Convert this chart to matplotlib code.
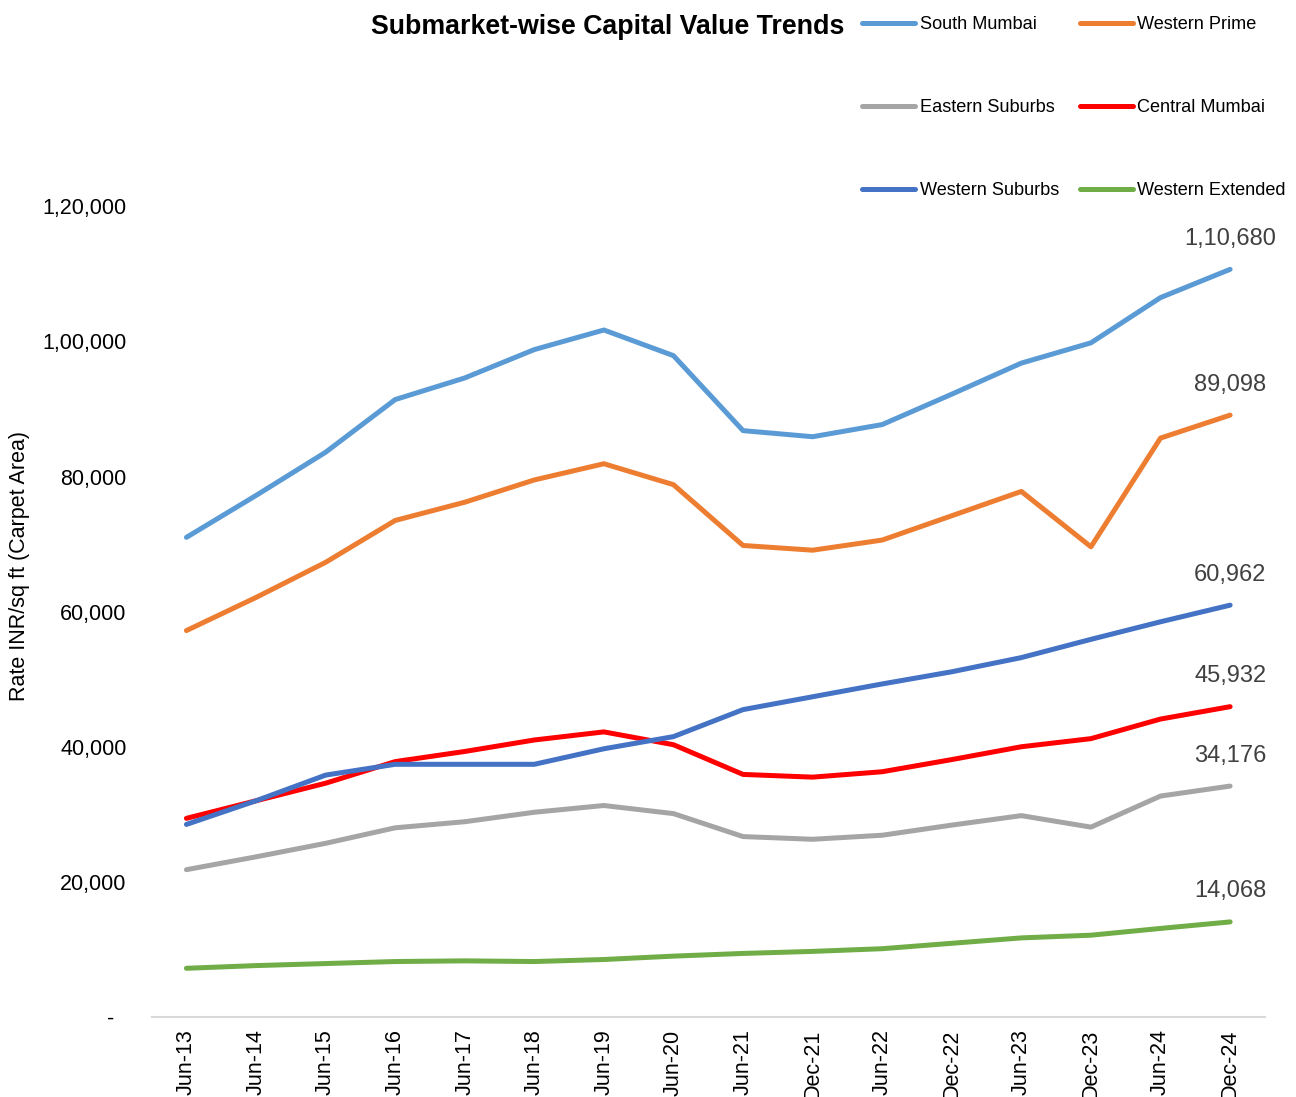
import numpy as np
import matplotlib
matplotlib.use('Agg')
import matplotlib.pyplot as plt
from matplotlib.ticker import FuncFormatter

plt.rcParams['font.family'] = ['Liberation Sans', 'DejaVu Sans']

periods = ['Jun-13', 'Jun-14', 'Jun-15', 'Jun-16', 'Jun-17', 'Jun-18', 'Jun-19', 'Jun-20',
           'Jun-21', 'Dec-21', 'Jun-22', 'Dec-22', 'Jun-23', 'Dec-23', 'Jun-24', 'Dec-24']

south_mumbai = [71000, 77200, 83600, 91400, 94600, 98800, 101700, 97900,
                86800, 85900, 87700, 92200, 96800, 99800, 106500, 110680]
western_prime = [57200, 62100, 67300, 73500, 76200, 79500, 81900, 78800,
                 69800, 69100, 70600, 74200, 77800, 69600, 85700, 89098]
eastern_suburbs = [21800, 23700, 25700, 28000, 28900, 30300, 31300, 30100,
                   26700, 26300, 26900, 28400, 29800, 28100, 32700, 34176]
central_mumbai = [29400, 32000, 34600, 37800, 39300, 41000, 42200, 40300,
                  35900, 35500, 36300, 38100, 40000, 41200, 44100, 45932]
western_suburbs = [28500, 32000, 35800, 37400, 37400, 37400, 39700, 41500,
                   45500, 47400, 49300, 51100, 53200, 55900, 58500, 60962]
western_extended = [7200, 7600, 7900, 8200, 8300, 8200, 8500, 9000,
                    9400, 9700, 10100, 10900, 11700, 12100, 13100, 14068]

# legend order: column 1 then column 2
series = [
    ('South Mumbai', south_mumbai, '#5B9BD5'),
    ('Eastern Suburbs', eastern_suburbs, '#A5A5A5'),
    ('Western Suburbs', western_suburbs, '#4472C4'),
    ('Western Prime', western_prime, '#ED7D31'),
    ('Central Mumbai', central_mumbai, '#FF0000'),
    ('Western Extended', western_extended, '#70AD47'),
]
# drawing order (front-most last)
draw_order = ['Western Extended', 'Eastern Suburbs', 'Central Mumbai',
              'Western Suburbs', 'Western Prime', 'South Mumbai']


def indian_fmt(v, pos=None):
    v = int(round(v))
    if v == 0:
        return '-'
    s = str(v)
    if len(s) <= 3:
        return s
    last3 = s[-3:]
    rest = s[:-3]
    groups = []
    while len(rest) > 2:
        groups.insert(0, rest[-2:])
        rest = rest[:-2]
    if rest:
        groups.insert(0, rest)
    return ','.join(groups) + ',' + last3


def tick_fmt(v, pos=None):
    # Excel style: zero shown as a dash with trailing padding
    if int(round(v)) == 0:
        return '-  '
    return indian_fmt(v)


fig = plt.figure(figsize=(12.96, 10.97), dpi=100)
ax = fig.add_axes([0.117, 0.073, 0.859, 0.862])

x = np.arange(len(periods))
handles = {}
for name in draw_order:
    vals, col = [(s[1], s[2]) for s in series if s[0] == name][0]
    ln, = ax.plot(x, vals, color=col, lw=3.6, solid_capstyle='round',
                  solid_joinstyle='round', label=name)
    handles[name] = ln
    ax.annotate(indian_fmt(vals[-1]), (x[-1], vals[-1]), xytext=(0, 22),
                textcoords='offset points', ha='center', va='center',
                fontsize=17, color='#404040')

ax.set_xlim(-0.5, len(periods) - 0.5)
ax.set_ylim(0, 140000)
ax.set_yticks(np.arange(0, 140001, 20000)[:-1])
ax.yaxis.set_major_formatter(FuncFormatter(tick_fmt))
ax.set_xticks(x)
ax.set_xticklabels(periods, rotation=90, fontsize=15.5)
ax.tick_params(axis='y', length=0, pad=18, labelsize=15.5)
ax.tick_params(axis='x', length=0, pad=9)

for sp in ['top', 'right', 'left']:
    ax.spines[sp].set_visible(False)
ax.spines['bottom'].set_color('#D9D9D9')
ax.spines['bottom'].set_linewidth(1.5)

fig.text(20 / 1296, 1 - 566 / 1097, 'Rate INR/sq ft (Carpet Area)', rotation=90,
         ha='center', va='center', fontsize=15.5)

fig.text(608 / 1296, 0.975, 'Submarket-wise Capital Value Trends', ha='center', va='center',
         fontsize=19.3, fontweight='bold')

leg = fig.legend([handles[s[0]] for s in series], [s[0] for s in series],
                 loc='upper left', bbox_to_anchor=(0.6655, 0.985), ncol=2,
                 frameon=False, fontsize=13.1, handlelength=2.9, handletextpad=0.25,
                 columnspacing=1.15, labelspacing=3.62, borderpad=0, borderaxespad=0)

fig.savefig('out.png', dpi=100)
